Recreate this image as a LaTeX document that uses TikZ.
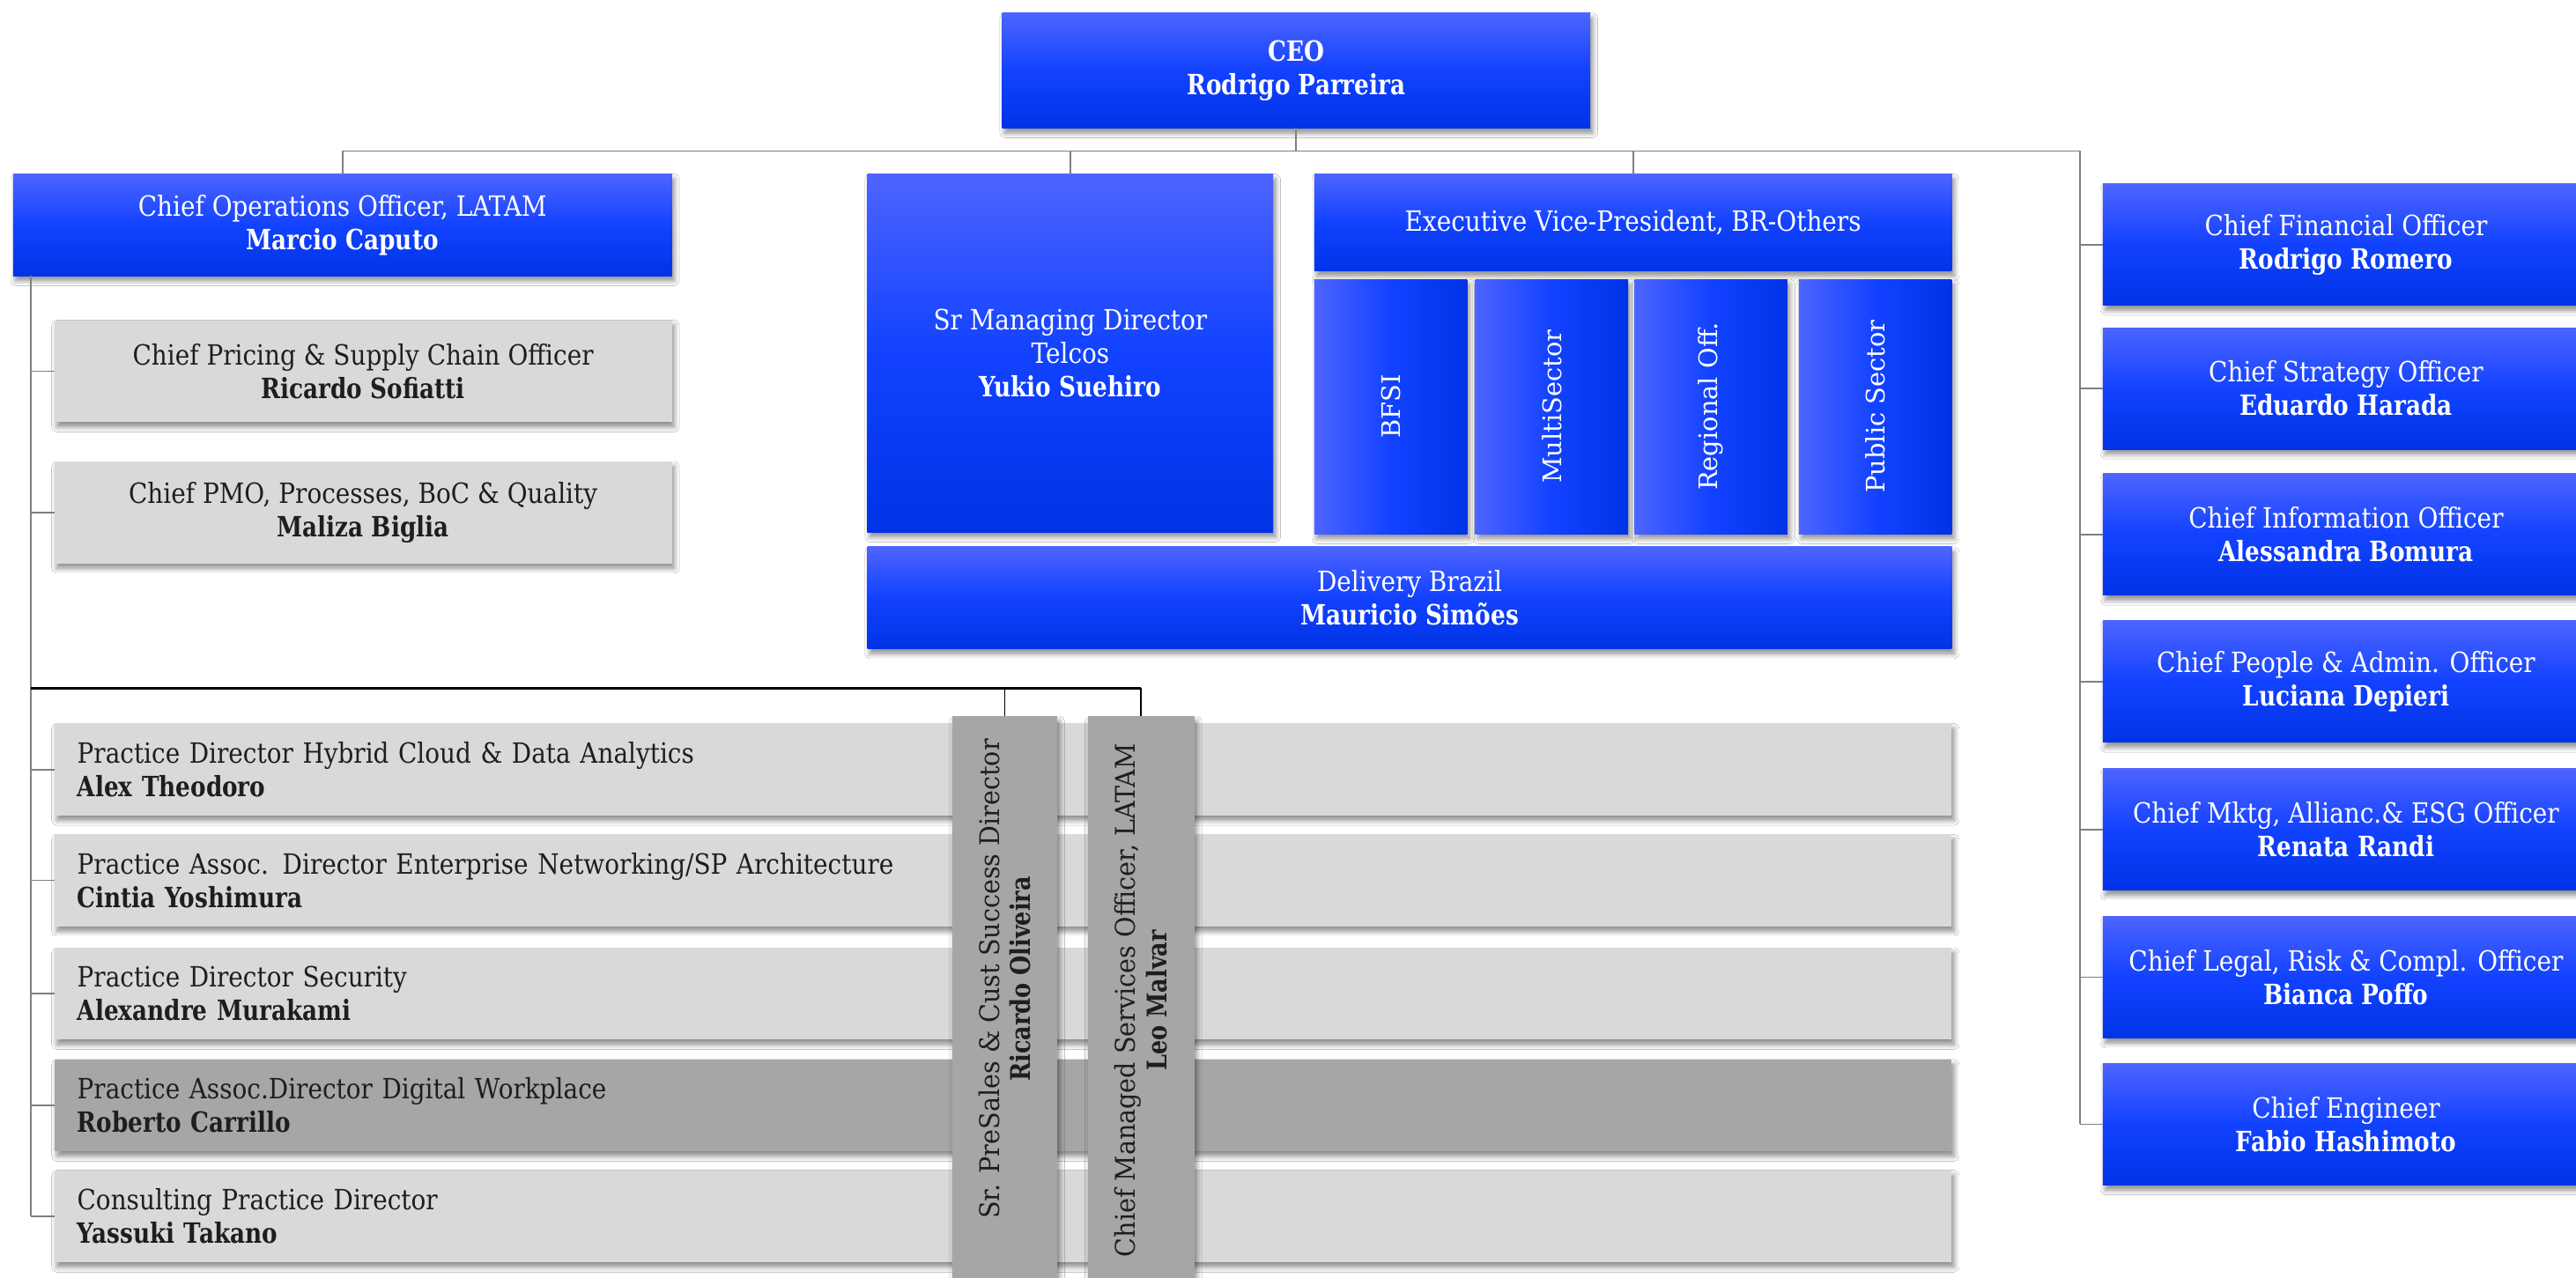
\documentclass[tikz,border=0pt]{standalone}
\usepackage{fontspec}
\setmainfont{DejaVu Serif}[UprightFeatures={FakeStretch=0.88}, BoldFeatures={FakeStretch=0.83}]
\newfontfamily\widefont{DejaVu Serif}
\newfontfamily\vfont{DejaVu Serif}[UprightFeatures={FakeStretch=0.93}, BoldFeatures={FakeStretch=0.83}]
\usetikzlibrary{shadows.blur}
\definecolor{lineg}{RGB}{127,127,127}
\definecolor{btop}{RGB}{77,100,255}
\definecolor{bmid}{RGB}{18,66,255}
\definecolor{bbot}{RGB}{0,51,230}
\definecolor{lgray}{RGB}{217,217,217}
\definecolor{dgray}{RGB}{166,166,166}
\definecolor{txt}{RGB}{30,30,30}
\begin{document}
\begin{tikzpicture}[x=1pt,y=-1pt,
  every node/.style={inner sep=0pt, outer sep=0pt, font=\fontsize{17}{20.5}\selectfont},
  shad/.style={blur shadow={shadow xshift=1.5pt, shadow yshift=-3pt, shadow blur steps=6, shadow blur radius=3pt, shadow opacity=45}},
  bluebox/.style={shad, top color=btop, bottom color=bbot, middle color=bmid, text=white, align=center},
  subbox/.style={shad, left color=btop, right color=bbot, middle color=bmid, text=white, minimum width=93pt, minimum height=155pt, font=\widefont\fontsize{15.5}{20}\selectfont},
  graybox/.style={shad, fill=lgray, text=txt, align=center},
  practice/.style={shad, fill=lgray, text=txt, align=left, text width=1127pt, inner xsep=14pt, minimum height=56pt},
  vbox/.style={shad, fill=dgray, text=txt, minimum width=64pt, minimum height=350pt},
  rbox/.style={bluebox, minimum width=296pt, minimum height=74pt},
  conn/.style={draw=lineg, line width=1pt},
  bar/.style={draw=black, line width=1.3pt}
]
\useasboundingbox (0,0) rectangle (1568,778);
\fill[white] (0,0) rectangle (1568,778);

% top level
\node[bluebox, minimum width=358pt, minimum height=70pt] (ceo) at (789,43) {\textbf{CEO}\\\textbf{Rodrigo Parreira}};
\node[bluebox, minimum width=401pt, minimum height=62pt] (coo) at (208.5,137) {Chief Operations Officer, LATAM\\\textbf{Marcio Caputo}};
\node[bluebox, minimum width=247pt, minimum height=218pt] (smd) at (651.5,215) {Sr Managing Director\\Telcos\\\textbf{Yukio Suehiro}};
\node[bluebox, minimum width=388pt, minimum height=59pt] (evp) at (994,135.5) {Executive Vice-President, BR-Others};
\node[subbox] (bfsi) at (846.5,247.5) {\rotatebox{90}{BFSI}};
\node[subbox] (multi) at (944.5,247.5) {\rotatebox{90}{MultiSector}};
\node[subbox] (regional) at (1041.5,247.5) {\rotatebox{90}{Regional Off.}};
\node[subbox] (public) at (1141.5,247.5) {\rotatebox{90}{Public Sector}};
\node[bluebox, minimum width=660pt, minimum height=62pt] (delivery) at (858,364) {Delivery Brazil\\\textbf{Mauricio Simões}};

% right column
\node[rbox] (cfo) at (1428,149) {Chief Financial Officer\\\textbf{Rodrigo Romero}};
\node[rbox] (cso) at (1428,236.5) {Chief Strategy Officer\\\textbf{Eduardo Harada}};
\node[rbox] (cio) at (1428,325.5) {Chief Information Officer\\\textbf{Alessandra Bomura}};
\node[rbox] (people) at (1428,415) {Chief People \& Admin. Officer\\\textbf{Luciana Depieri}};
\node[rbox] (mktg) at (1428,505) {Chief Mktg, Allianc.\& ESG Officer\\\textbf{Renata Randi}};
\node[rbox] (legal) at (1428,595) {Chief Legal, Risk \& Compl. Officer\\\textbf{Bianca Poffo}};
\node[rbox] (eng) at (1428,684.5) {Chief Engineer\\\textbf{Fabio Hashimoto}};

% COO reports
\node[graybox, minimum width=376pt, minimum height=62pt] (pricing) at (221,226) {Chief Pricing \& Supply Chain Officer\\\textbf{Ricardo Sofiatti}};
\node[graybox, minimum width=376pt, minimum height=62pt] (pmo) at (221,312) {Chief PMO, Processes, BoC \& Quality\\\textbf{Maliza Biglia}};

% practices
\node[practice] (p1) at (610.5,468.5) {Practice Director Hybrid Cloud \& Data Analytics\\\textbf{Alex Theodoro}};
\node[practice] (p2) at (610.5,536) {Practice Assoc. Director Enterprise Networking/SP Architecture\\\textbf{Cintia Yoshimura}};
\node[practice] (p3) at (610.5,605) {Practice Director Security\\\textbf{Alexandre Murakami}};
\node[practice, fill=dgray] (p4) at (610.5,673) {Practice Assoc.Director Digital Workplace\\\textbf{Roberto Carrillo}};
\node[practice] (p5) at (610.5,740.5) {Consulting Practice Director\\\textbf{Yassuki Takano}};

% vertical gray boxes
\node[vbox] (presales) at (611.5,611) {\rotatebox{90}{\hspace*{30pt}\parbox{310pt}{\centering\vfont\fontsize{16.5}{19}\selectfont Sr. PreSales \& Cust Success Director\\\textbf{Ricardo Oliveira}}}};
\node[vbox, minimum width=65pt] (mso) at (694.5,611) {\rotatebox{90}{\hspace*{4pt}\parbox{330pt}{\centering\vfont\fontsize{16.5}{19}\selectfont Chief Managed Services Officer, LATAM\\\textbf{Leo Malvar}}}};

% connectors
\coordinate (bus) at (789,92);
\coordinate (rsp) at (1266,92);
\draw[conn] (ceo.south) -- (bus);
\draw[conn] (coo.north) |- (rsp) -- (rsp |- eng.west);
\draw[conn] (smd.north) -- (smd.north |- bus);
\draw[conn] (evp.north) -- (evp.north |- bus);
\foreach \n in {cfo,cso,cio,people,mktg,legal,eng}
  \draw[conn] (\n.west) -- (\n.west -| rsp);

\coordinate (lsp) at (19,168);
\coordinate (hbar) at (19,419);
\draw[conn] (lsp) -- (lsp |- p5.west);
\foreach \n in {pricing,pmo,p1,p2,p3,p4,p5}
  \draw[conn] (\n.west) -- (\n.west -| lsp);
\draw[bar] (hbar) -- (hbar -| mso.north);
\draw[draw=black, line width=0.8pt] (presales.north) -- (presales.north |- hbar);
\draw[draw=black, line width=0.8pt] (mso.north) -- (mso.north |- hbar);
\end{tikzpicture}
\end{document}
